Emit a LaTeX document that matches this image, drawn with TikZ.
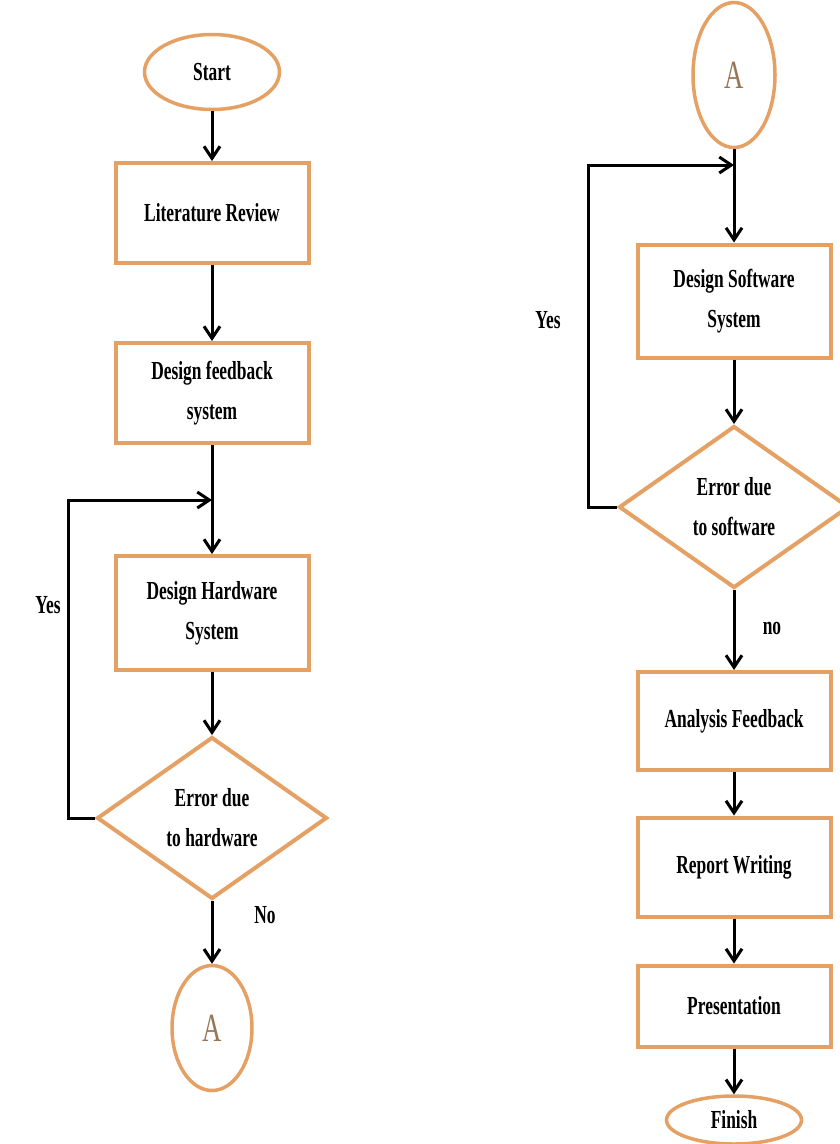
\documentclass[tikz,border=0pt]{standalone}
\usepackage{fontspec}
\setmainfont{Liberation Serif}[FakeStretch=0.67]
\usetikzlibrary{shapes.geometric,arrows.meta}
\definecolor{ob}{RGB}{229,160,100}
\definecolor{atext}{RGB}{150,118,85}
\begin{document}
\begin{tikzpicture}[x=1pt,y=-1pt,
  txt/.style={font=\fontsize{26}{40}\selectfont\bfseries, align=center},
  box/.style={txt, draw=ob, line width=4pt, rectangle, minimum width=193pt, inner sep=0pt},
  term/.style={txt, draw=ob, line width=3.5pt, ellipse, inner sep=0pt},
  conn/.style={txt, draw=ob, line width=3.5pt, ellipse, inner sep=0pt, text=atext, font=\fontsize{40}{40}\selectfont},
  dec/.style={txt, draw=ob, line width=4pt, diamond, aspect=1.4, inner sep=0pt, minimum width=230pt, minimum height=162pt},
  arr/.style={draw=black, line width=3pt, -{Straight Barb[length=12pt,width=16pt,line width=3pt]}},
  lbl/.style={txt}]
\useasboundingbox (0,0) rectangle (840,1144);
% left column
\node[term, minimum width=135pt, minimum height=75pt] (start) at (212,72) {Start};
\node[box, minimum height=100pt] (lit) at (212,213) {Literature Review};
\node[box, minimum height=100pt] (feed) at (212,393) {Design feedback\\system};
\node[box, minimum height=114pt] (hw) at (212,613) {Design Hardware\\System};
\node[dec] (d1) at (212,818) {Error due\\to hardware};
\node[conn, minimum width=80pt, minimum height=125pt] (a1) at (212,1028) {A};
\coordinate (j1) at (212,500);
\coordinate (l1) at (68,500);
\node[lbl] (yes1) at (48,605) {Yes};
\node[lbl] (no1) at (265,915) {No};
\draw[arr] (start) -- (lit);
\draw[arr] (lit) -- (feed);
\draw[arr] (feed) -- (hw);
\draw[arr] (hw) -- (d1);
\draw[arr] (d1) -- (a1);
\draw[arr] (d1.west) -| (l1) -- (j1);
% right column
\node[conn, minimum width=82pt, minimum height=145pt] (a2) at (734,75) {A};
\node[box, minimum height=113pt] (sw) at (734,301) {Design Software\\System};
\node[dec] (d2) at (734,507) {Error due\\to software};
\node[box, minimum height=98pt] (an) at (734,721) {Analysis Feedback};
\node[box, minimum height=99pt] (rep) at (734,867) {Report Writing};
\node[box, minimum height=81pt] (pres) at (734,1006) {Presentation};
\node[term, minimum width=135pt, minimum height=48pt] (fin) at (734,1120) {Finish};
\coordinate (j2) at (734,165);
\coordinate (l2) at (588,165);
\node[lbl] (yes2) at (548,320) {Yes};
\node[lbl] (no2) at (772,628) {no};
\draw[arr] (a2) -- (sw);
\draw[arr] (sw) -- (d2);
\draw[arr] (d2) -- (an);
\draw[arr] (an) -- (rep);
\draw[arr] (rep) -- (pres);
\draw[arr] (pres) -- (fin);
\draw[arr] (d2.west) -| (l2) -- (j2);
\end{tikzpicture}
\end{document}
